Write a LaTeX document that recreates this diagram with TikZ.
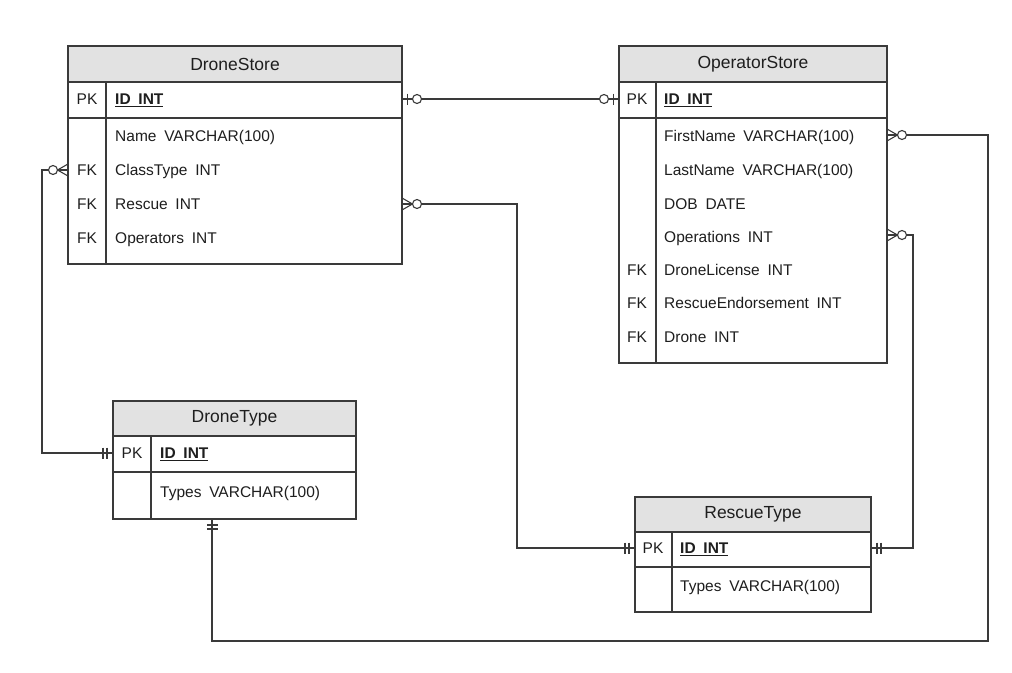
\documentclass[tikz,border=0pt]{standalone}
\usepackage{fontspec}
\setmainfont{Liberation Sans}
\begin{document}
\begin{tikzpicture}[x=1pt,y=-1pt,
  every node/.style={text=txt, font=\fontsize{15.5}{18}\selectfont},
  box/.style={draw=linec, line width=1.1pt, anchor=north west, inner sep=0pt, outer sep=0pt},
  hdr/.style={box, fill=hdrc, font=\fontsize{17.5}{20}\selectfont},
  grid/.style={draw=linec, line width=1.1pt},
  fld/.style={anchor=base west, inner sep=0pt, yshift=-5.6pt},
  key/.style={anchor=base, inner sep=0pt, yshift=-5.6pt},
  conn/.style={draw=linec, line width=1.1pt},
  mk/.style={draw=linec, line width=1.1pt},
  pics/zeroone/.style={code={
    \draw[mk] (5.5,-5.5)--(5.5,5.5);
    \draw[mk, fill=white] (15,0) circle (4.5);}},
  pics/zeromany/.style={code={
    \draw[mk] (0,-6)--(10.5,0)--(0,6);
    \draw[mk, fill=white] (15,0) circle (4.5);}},
  pics/onlyone/.style={code={
    \draw[mk] (6,-5.5)--(6,5.5);
    \draw[mk] (10,-5.5)--(10,5.5);}}
]
\definecolor{linec}{HTML}{3A3A3A}
\definecolor{hdrc}{HTML}{E2E2E2}
\definecolor{txt}{HTML}{1E1E1E}
\newcommand{\gap}{\hspace{0.5em}}
\newcommand{\pkt}{\underline{\textbf{ID\gap INT}}}
\useasboundingbox (0,0) rectangle (1012,672);
\fill[white] (0,0) rectangle (1012,672);

% ---------- DroneStore ----------
\node[box, minimum width=334, minimum height=218] (ds) at (68,46) {};
\node[hdr, minimum width=334, minimum height=36] (dsh) at (68,46) {DroneStore};
\draw[grid] (68,118) -- (402,118);
\draw[grid] (106,82) -- (106,264);
\node[key] (dspk) at (87,99) {PK};
\node[fld] (dsid) at (115,99) {\pkt};
\node[fld] (dsname) at (115,136) {Name\gap VARCHAR(100)};
\node[key] at (87,170) {FK};
\node[fld] (dsclass) at (115,170) {ClassType\gap INT};
\node[key] at (87,204) {FK};
\node[fld] (dsrescue) at (115,204) {Rescue\gap INT};
\node[key] at (87,238) {FK};
\node[fld] (dsops) at (115,238) {Operators\gap INT};

% ---------- OperatorStore ----------
\node[box, minimum width=268, minimum height=317] (os) at (619,46) {};
\node[hdr, minimum width=268, minimum height=36] (osh) at (619,46) {OperatorStore};
\draw[grid] (619,118) -- (887,118);
\draw[grid] (656,82) -- (656,363);
\node[key] (ospk) at (637,99) {PK};
\node[fld] (osid) at (664,99) {\pkt};
\node[fld] (osfirst) at (664,136) {FirstName\gap VARCHAR(100)};
\node[fld] (oslast) at (664,170) {LastName\gap VARCHAR(100)};
\node[fld] (osdob) at (664,204) {DOB\gap DATE};
\node[fld] (osops) at (664,237) {Operations\gap INT};
\node[key] at (637,270) {FK};
\node[fld] (oslic) at (664,270) {DroneLicense\gap INT};
\node[key] at (637,303) {FK};
\node[fld] (osres) at (664,303) {RescueEndorsement\gap INT};
\node[key] at (637,337) {FK};
\node[fld] (osdrone) at (664,337) {Drone\gap INT};

% ---------- DroneType ----------
\node[box, minimum width=243, minimum height=118] (dt) at (113,401) {};
\node[hdr, minimum width=243, minimum height=35] (dth) at (113,401) {DroneType};
\draw[grid] (113,472) -- (356,472);
\draw[grid] (151,436) -- (151,519);
\node[key] (dtpk) at (132,453) {PK};
\node[fld] (dtid) at (160,453) {\pkt};
\node[fld] (dttypes) at (160,492) {Types\gap VARCHAR(100)};

% ---------- RescueType ----------
\node[box, minimum width=236, minimum height=115] (rt) at (635,497) {};
\node[hdr, minimum width=236, minimum height=35] (rth) at (635,497) {RescueType};
\draw[grid] (635,567) -- (871,567);
\draw[grid] (672,532) -- (672,612);
\node[key] (rtpk) at (653,548) {PK};
\node[fld] (rtid) at (680,548) {\pkt};
\node[fld] (rttypes) at (680,586) {Types\gap VARCHAR(100)};

% ---------- connectors ----------
\coordinate (c1) at (42,170);
\coordinate (c2) at (517,204);
\coordinate (c3) at (988,135);
\coordinate (c4) at (988,641);
\coordinate (c5) at (212,641);
\coordinate (c6) at (913,235);
\coordinate (p1) at (0,99);
\coordinate (p2) at (0,548);
\coordinate (p3) at (0,453);

% DroneStore PK -- OperatorStore PK
\draw[conn] (ds.east |- p1) -- (os.west |- p1);
\pic at (ds.east |- p1) {zeroone};
\pic[xscale=-1] at (os.west |- p1) {zeroone};

% ClassType -> DroneType
\draw[conn] (ds.west |- c1) -- (c1) -- (c1 |- p3) -- (dt.west |- p3);
\pic[xscale=-1] at (ds.west |- c1) {zeromany};
\pic[xscale=-1] at (dt.west |- p3) {onlyone};

% Rescue -> RescueType
\draw[conn] (ds.east |- c2) -- (c2) -- (c2 |- p2) -- (rt.west |- p2);
\pic at (ds.east |- c2) {zeromany};
\pic[xscale=-1] at (rt.west |- p2) {onlyone};

% FirstName -> DroneType bottom
\draw[conn] (os.east |- c3) -- (c3) -- (c4) -- (c5) -- (dt.south -| c5);
\pic at (os.east |- c3) {zeromany};
\pic[rotate=-90] at (dt.south -| c5) {onlyone};

% Operations -> RescueType
\draw[conn] (os.east |- c6) -- (c6) -- (c6 |- p2) -- (rt.east |- p2);
\pic at (os.east |- c6) {zeromany};
\pic at (rt.east |- p2) {onlyone};
\end{tikzpicture}
\end{document}
